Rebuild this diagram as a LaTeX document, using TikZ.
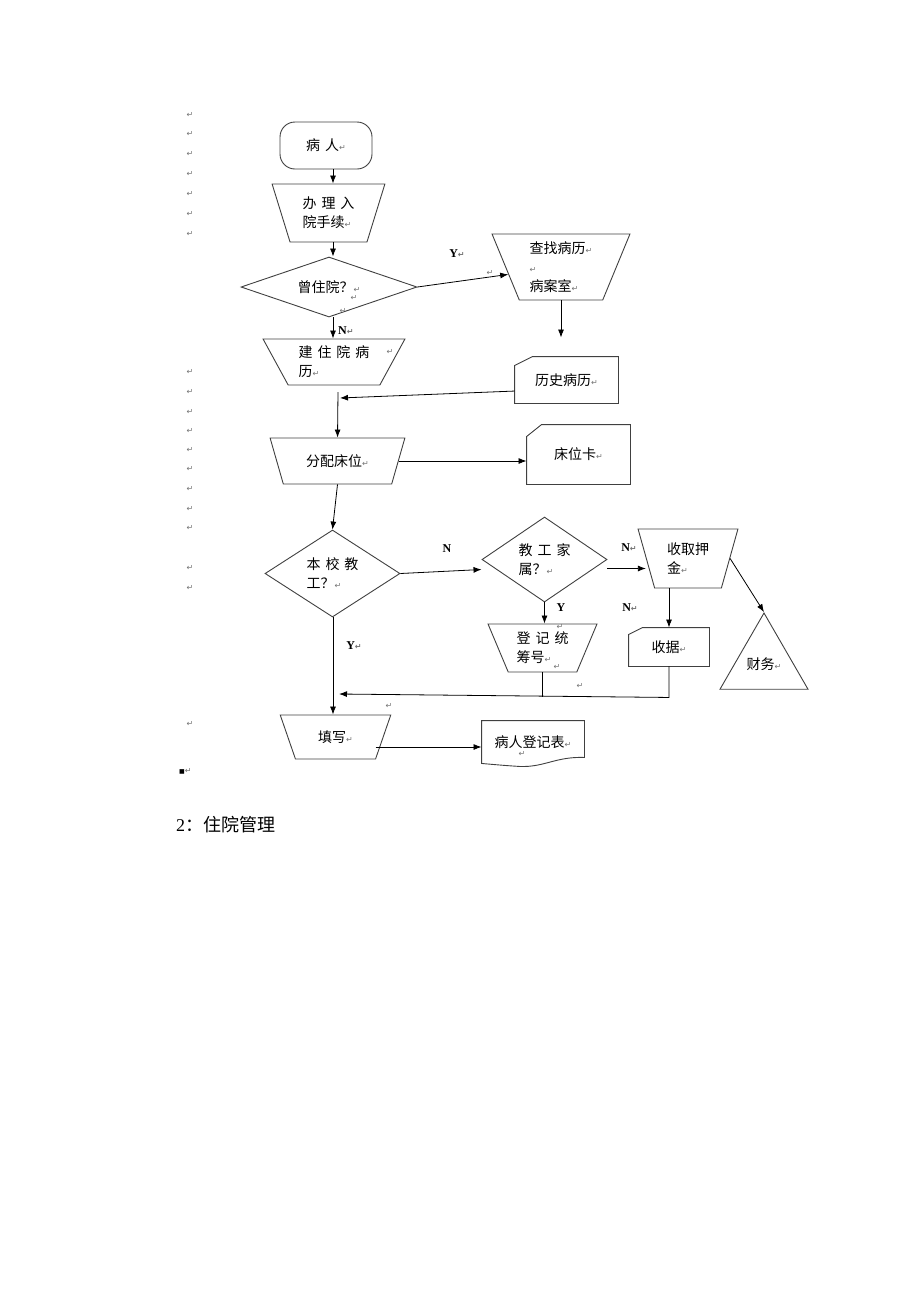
\documentclass[tikz,border=0pt]{standalone}
\usepackage{fontspec}
\setmainfont{Liberation Serif}
\newfontfamily\cjk{Noto Sans CJK SC}
\newfontfamily\symfont{DejaVu Sans}
\usetikzlibrary{shapes.geometric,arrows.meta}

\newcommand{\retmark}{{\symfont\fontsize{8}{8}\selectfont\textcolor{black!55}{↵}}}
\newcommand{\cgap}{\hspace{5pt}}

\tikzset{
  box/.style={draw=black!75, line width=0.9pt, inner sep=0pt, align=left,
    font=\cjk\fontsize{14}{19}\selectfont},
  manual/.style={box, trapezium, trapezium stretches=true,
    trapezium left angle=#1, trapezium right angle=#1},
  decision/.style={box, diamond},
  cardbox/.style={box, draw=none, rectangle},
  edge/.style={draw=black!75, line width=0.9pt},
  flow/.style={line width=0.8pt, -{Latex[length=8pt,width=6pt]}},
  link/.style={line width=0.8pt},
  yn/.style={inner sep=0pt, font=\bfseries\fontsize{12}{12}\selectfont},
  retnode/.style={inner sep=0pt}
}

\begin{document}
\begin{tikzpicture}[x=1pt,y=-1pt]
\useasboundingbox (0,0) rectangle (920,1302);
\coordinate (colx) at (333,0);

\node[box, rectangle, rounded corners=15pt, minimum width=92pt, minimum height=47pt] (patient) at (326,145.5) {病\cgap 人\retmark};
\node[manual=110.8, minimum width=113pt, minimum height=58pt] (admit) at (328.5,213) {办\cgap 理\cgap 入\\院手续\retmark};
\node[decision, aspect=3, minimum width=176pt, minimum height=60pt] (prior) at (329,287) {曾住院？\retmark};
\node[manual=111.9, minimum width=138pt, minimum height=66pt] (findrec) at (561,267) {查找病历\retmark\\\retmark\\病案室\retmark};
\node[manual=121.3, minimum width=142pt, minimum height=46pt] (newrec) at (334,362) {建\cgap 住\cgap 院\cgap 病\\历\retmark};
\node[cardbox, minimum width=103pt, minimum height=46pt] (history) at (566.5,380) {历史病历\retmark};
\node[manual=120.4, minimum width=135pt, minimum height=46pt] (alloc) at (337.5,461) {分配床位\retmark};
\node[cardbox, minimum width=103pt, minimum height=59pt] (bedcard) at (578.5,454.5) {床位卡\retmark};
\node[decision, aspect=1.5, minimum width=135pt, minimum height=87pt] (staff) at (332.5,573.5) {本\cgap 校\cgap 教\\工？\retmark};
\node[decision, aspect=1.5, minimum width=125pt, minimum height=85pt] (family) at (544.5,559.5) {教\cgap 工\cgap 家\\属？\retmark};
\node[manual=108.3, minimum width=100pt, minimum height=59pt] (deposit) at (688,558.5) {收取押\\金\retmark};
\node[manual=115.6, minimum width=109pt, minimum height=48pt] (register) at (542.5,648) {登\cgap 记\cgap 统\\筹号\retmark};
\node[cardbox, minimum width=80pt, minimum height=38pt] (receipt) at (669,647) {收据\retmark};
\node[box, regular polygon, regular polygon sides=3, minimum size=101.6pt] (finance) at (764,663.8) {财务\retmark};
\node[manual=117.1, minimum width=111pt, minimum height=44pt] (fill) at (335.5,737) {填写\retmark};
\node[cardbox, minimum width=102pt, minimum height=42pt] (regform) at (533,742) {病人登记表\retmark};

\draw[edge] ([yshift=-9pt]history.north west) -- ([xshift=18pt]history.north west) -- (history.north east) -- (history.south east) -- (history.south west) -- cycle;
\draw[edge] ([yshift=-12pt]bedcard.north west) -- ([xshift=15pt]bedcard.north west) -- (bedcard.north east) -- (bedcard.south east) -- (bedcard.south west) -- cycle;
\draw[edge] ([yshift=-7pt]receipt.north west) -- ([xshift=14pt]receipt.north west) -- (receipt.north east) -- (receipt.south east) -- (receipt.south west) -- cycle;
\draw[edge] (regform.north west) -- (regform.north east) -- ([yshift=6pt]regform.south east)
  .. controls +(-29,-1) and +(25,1) .. ([xshift=38pt,yshift=-3pt]regform.south west)
  .. controls +(-15,-1) .. (regform.south west) -- cycle;

\coordinate (histjoin) at (338,392);
\coordinate (histin) at (340,398);
\coordinate (famout) at ([yshift=-9pt]family.east);
\coordinate (feeback) at (339,694);
\coordinate (fillout) at ([xshift=-8pt,yshift=-10pt]fill.east);

\draw[flow] (patient.south -| colx) -- (admit.north -| colx);
\draw[flow] (admit.south -| colx) -- (prior.north -| colx);
\draw[flow] (prior.east) -- (findrec.188);
\draw[flow, shorten >=19pt] (findrec.south) -- (findrec.south |- history.north);
\draw[flow] (prior.south -| colx) -- (newrec.north -| colx);
\draw[flow] (history.192) -- (histin);
\draw[flow] (histjoin) -- (alloc.north);
\draw[flow] (alloc.east) -- (alloc.east -| bedcard.west);
\draw[flow] (alloc.south) -- (staff.north);
\draw[flow] (staff.east) -- ([yshift=-10pt]family.west);
\draw[flow] (famout) -- (famout -| deposit.west);
\draw[flow] (family.south) -- (family.south |- register.north);
\draw[flow] (receipt.north |- deposit.south) -- (receipt.north);
\draw[flow] (deposit.east) -- (finance.corner 1);
\draw[link] (register.south) -- ++(0,25);
\draw[flow] (receipt.south) -- ++(0,31) -- (feeback);
\draw[flow] (staff.south -| colx) -- (fill.north -| colx);
\draw[flow] (fillout) -- (fillout -| regform.west);

\node[yn] at (457,254) {Y\retmark};
\node[yn, anchor=west] at (338,331) {N\retmark};
\node[yn] at (447,549) {N};
\node[yn] at (629,548) {N\retmark};
\node[yn] at (561,608) {Y};
\node[yn] at (630,608) {N\retmark};
\node[yn] at (354,646) {Y\retmark};

\foreach \y in {115,134,154,174,194,214,234,372,392,412,431,450,469,489,509,528,568,588,724}
  \node[retnode] at (190,\y) {\retmark};
\foreach \p in {(490,273),(354,298),(343,311),(390,352),(560,627),(557,667),(580,686),(389,706),(522,754)}
  \node[retnode] at \p {\retmark};

\node[retnode, anchor=west] at (179,771) {{\symfont\fontsize{6}{6}\selectfont ■}\retmark};
\node[inner sep=0pt, anchor=west] at (176,825) {\fontsize{18}{18}\selectfont 2{\cjk ：住院管理}};
\end{tikzpicture}
\end{document}
